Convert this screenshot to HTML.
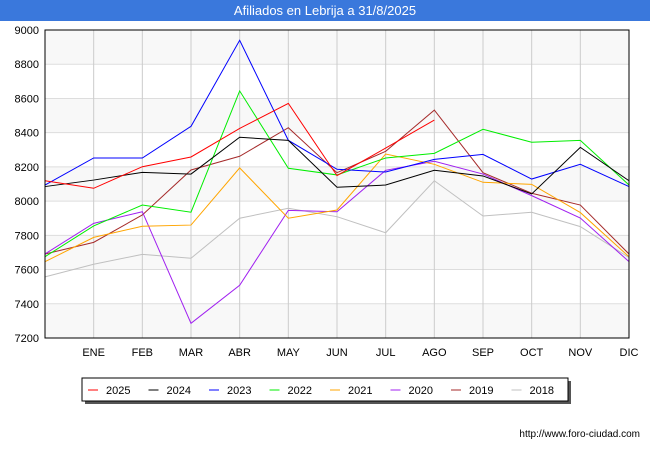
<!DOCTYPE html>
<html><head><meta charset="utf-8"><style>
body{margin:0;width:650px;height:450px;background:#fff;font-family:"Liberation Sans",sans-serif;overflow:hidden}
#title{position:absolute;left:0;top:0;width:650px;height:21px;background:#3a78dc;color:#fff;font-size:13px;text-align:center;line-height:21px}
svg{position:absolute;left:0;top:0}
</style></head><body>
<div id="title">Afiliados en Lebrija a 31/8/2025</div>
<svg id="chart" width="650" height="450"></svg>
<script>
const categories=["","ENE","FEB","MAR","ABR","MAY","JUN","JUL","AGO","SEP","OCT","NOV","DIC"];
const yTicks=[7200,7400,7600,7800,8000,8200,8400,8600,8800,9000];
const seriesNames=["2025","2024","2023","2022","2021","2020","2019","2018"];
const seriesColors=["#ff0000","#000000","#0000ff","#00ee00","#ffa500","#a020f0","#a52a2a","#c0c0c0"];
const s2025=[8119,8075,8201,8258,8425,8571,8149,8310,8474];
const s2024=[8085,8123,8168,8158,8373,8355,8081,8094,8180,8147,8042,8314,8119];
const s2023=[8094,8252,8252,8437,8940,8355,8186,8170,8244,8273,8129,8215,8085];
const s2022=[7675,7855,7977,7935,8644,8192,8153,8252,8279,8420,8344,8355,8094];
const s2021=[7646,7788,7853,7860,8194,7900,7948,8275,8215,8110,8098,7933,7675];
const s2020=[7691,7870,7938,7286,7508,7946,7938,8180,8233,8158,8032,7901,7646];
const s2019=[7691,7759,7919,8182,8262,8429,8166,8291,8532,8166,8046,7977,7691];
const s2018=[7557,7631,7689,7666,7900,7958,7909,7815,8119,7913,7935,7851,7670];
const allSeries=[s2025,s2024,s2023,s2022,s2021,s2020,s2019,s2018];

const NS="http://www.w3.org/2000/svg";
const svg=document.getElementById('chart');
const L=45,R=629,T=30,B=338,yMin=7200,yMax=9000;
const xPos=i=>L+i*(R-L)/(categories.length-1);
const yPos=v=>B-(v-yMin)/(yMax-yMin)*(B-T);
function mk(tag,attrs){const e=document.createElementNS(NS,tag);for(const k in attrs)e.setAttribute(k,attrs[k]);svg.appendChild(e);return e;}
for(let i=0;i<yTicks.length-1;i++){
  if(i%2===0){const r=mk('rect',{x:L,y:yPos(yTicks[i+1]),width:R-L,height:yPos(yTicks[i])-yPos(yTicks[i+1]),fill:'#f8f8f8'});
  
  }
}
yTicks.forEach(v=>{
  const l=mk('line',{x1:L,x2:R,y1:yPos(v),y2:yPos(v),stroke:'#dddddd','stroke-width':1});
  
  
  const t=mk('text',{x:L-6,y:yPos(v)+4,'text-anchor':'end','font-size':11,fill:'#000'});
  t.textContent=v;
  
  
});
categories.forEach((c,i)=>{
  if(i===0)return;
  const l=mk('line',{x1:xPos(i),x2:xPos(i),y1:T,y2:B,stroke:'#cccccc','stroke-width':1});
  
  
  const t=mk('text',{x:xPos(i),y:B+18,'text-anchor':'middle','font-size':11,fill:'#000'});
  t.textContent=c;
  
  
});
for(let s=allSeries.length-1;s>=0;s--){
  const pts=allSeries[s].map((v,i)=>xPos(i)+','+yPos(v)).join(' ');
  const p=mk('polyline',{points:pts,fill:'none',stroke:seriesColors[s],'stroke-width':1});
  
  
}
const fr=mk('rect',{x:L,y:T,width:R-L,height:B-T,fill:'none',stroke:'#000','stroke-width':1});


const sh=mk('rect',{x:85,y:381,width:486,height:23,fill:'#555'});


const lb=mk('rect',{x:82,y:378,width:486,height:23,fill:'#fff',stroke:'#000','stroke-width':1});


seriesNames.forEach((n,i)=>{
  const x0=88+i*60.5;
  const l=mk('line',{x1:x0,x2:x0+10,y1:390,y2:390,stroke:seriesColors[i],'stroke-width':1});
  
  
  const t=mk('text',{x:x0+18,y:394,'font-size':11,fill:'#000'});
  t.textContent=n;
  
  
});
const u=mk('text',{x:640,y:437,'text-anchor':'end','font-size':10,fill:'#000'});
u.textContent='http://www.foro-ciudad.com';


</script>
</body></html>
